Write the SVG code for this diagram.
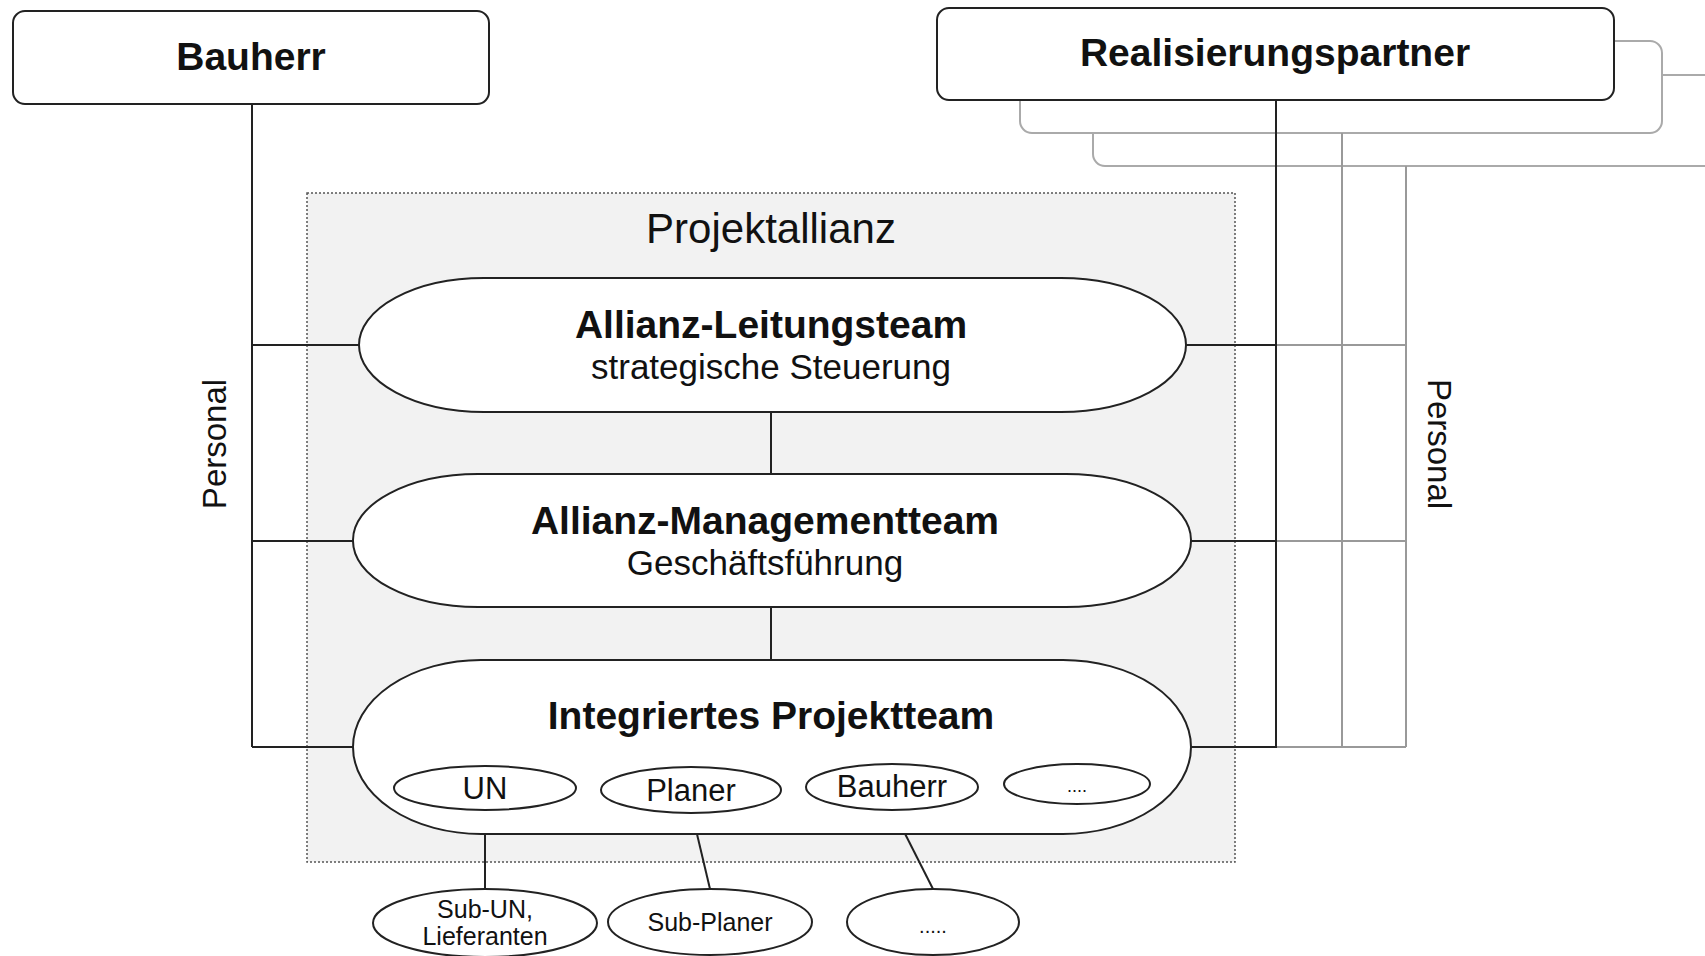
<svg xmlns="http://www.w3.org/2000/svg" width="1705" height="956" viewBox="0 0 1705 956">
<style>
.t{font-family:"Liberation Sans",Arial,sans-serif;fill:#111;text-anchor:middle}
.b{font-weight:bold;font-size:39px}
.box{fill:#fff;stroke:#222;stroke-width:2}
.sh{fill:#fff;stroke:#aaa;stroke-width:2}
.ln{stroke:#222;stroke-width:2;fill:none}
.gl{stroke:#999;stroke-width:2;fill:none}
.el{fill:#fff;stroke:#222;stroke-width:2}
</style>
<rect width="1705" height="956" fill="#fff"/>
<g id="projektallianz">
<rect x="307" y="193" width="928" height="669" fill="#f2f2f2" stroke="#555" stroke-width="1.5" stroke-dasharray="2 2"/>
<text class="t" x="771" y="243" font-size="42">Projektallianz</text>
</g>
<g id="realisierungspartner">
<rect class="sh" x="1093" y="75" width="700" height="91" rx="12"/>
<rect class="sh" x="1020" y="41" width="642" height="92" rx="12"/>
<rect class="box" x="937" y="8" width="677" height="92" rx="12"/>
<text class="t b" x="1275" y="66">Realisierungspartner</text>
</g>
<g id="connectors">
<line class="ln" x1="252" y1="104" x2="252" y2="747"/>
<line class="ln" x1="252" y1="345" x2="360" y2="345"/>
<line class="ln" x1="252" y1="541" x2="354" y2="541"/>
<line class="ln" x1="252" y1="747" x2="354" y2="747"/>
<line class="gl" x1="1342" y1="133" x2="1342" y2="747"/>
<line class="gl" x1="1406" y1="166" x2="1406" y2="747"/>
<line class="gl" x1="1276" y1="345" x2="1406" y2="345"/>
<line class="gl" x1="1276" y1="541" x2="1406" y2="541"/>
<line class="gl" x1="1276" y1="747" x2="1406" y2="747"/>
<line class="ln" x1="1276" y1="100" x2="1276" y2="747"/>
<line class="ln" x1="1185" y1="345" x2="1276" y2="345"/>
<line class="ln" x1="1190" y1="541" x2="1276" y2="541"/>
<line class="ln" x1="1190" y1="747" x2="1277" y2="747"/>
<line class="ln" x1="771" y1="412" x2="771" y2="475"/>
<line class="ln" x1="771" y1="607" x2="771" y2="660"/>
<line class="ln" x1="485" y1="810" x2="485" y2="889"/>
<line class="ln" x1="692" y1="813" x2="710" y2="889"/>
<line class="ln" x1="893" y1="810" x2="933" y2="889"/>
</g>
<g id="personal-left">
<text class="t" font-size="33" transform="translate(226,444) rotate(-90)">Personal</text>
</g>
<g id="personal-right">
<text class="t" font-size="33" transform="translate(1428,444) rotate(90)">Personal</text>
</g>
<g id="bauherr">
<rect class="box" x="13" y="11" width="476" height="93" rx="12"/>
<text class="t b" x="251" y="70">Bauherr</text>
</g>
<g id="leitungsteam">
<rect class="el" x="359" y="278" width="827" height="134" rx="125" ry="67"/>
<text class="t b" x="771" y="338">Allianz-Leitungsteam</text>
<text class="t" x="771" y="379" font-size="35">strategische Steuerung</text>
</g>
<g id="managementteam">
<rect class="el" x="353" y="474" width="838" height="133" rx="125" ry="66"/>
<text class="t b" x="765" y="534">Allianz-Managementteam</text>
<text class="t" x="765" y="575" font-size="35">Geschäftsführung</text>
</g>
<g id="projektteam">
<rect class="el" x="353" y="660" width="838" height="174" rx="128" ry="87"/>
<text class="t b" x="771" y="729">Integriertes Projektteam</text>
</g>
<g id="un">
<ellipse class="el" cx="485" cy="788" rx="91" ry="22"/>
<text class="t" x="485" y="799" font-size="31">UN</text>
</g>
<g id="planer">
<ellipse class="el" cx="691" cy="790" rx="90" ry="23"/>
<text class="t" x="691" y="801" font-size="31">Planer</text>
</g>
<g id="bauherr-team">
<ellipse class="el" cx="892" cy="787" rx="86" ry="23"/>
<text class="t" x="892" y="797" font-size="31">Bauherr</text>
</g>
<g id="more-team">
<ellipse class="el" cx="1077" cy="784" rx="73" ry="20"/>
<text class="t" x="1077" y="792" font-size="18">....</text>
</g>
<g id="sub-un">
<ellipse class="el" cx="485" cy="923" rx="112" ry="34"/>
<text class="t" x="485" y="918" font-size="25">Sub-UN,</text>
<text class="t" x="485" y="945" font-size="25">Lieferanten</text>
</g>
<g id="sub-planer">
<ellipse class="el" cx="710" cy="922" rx="102" ry="33"/>
<text class="t" x="710" y="931" font-size="25">Sub-Planer</text>
</g>
<g id="sub-more">
<ellipse class="el" cx="933" cy="922" rx="86" ry="33"/>
<text class="t" x="933" y="933" font-size="20">.....</text>
</g>
</svg>
